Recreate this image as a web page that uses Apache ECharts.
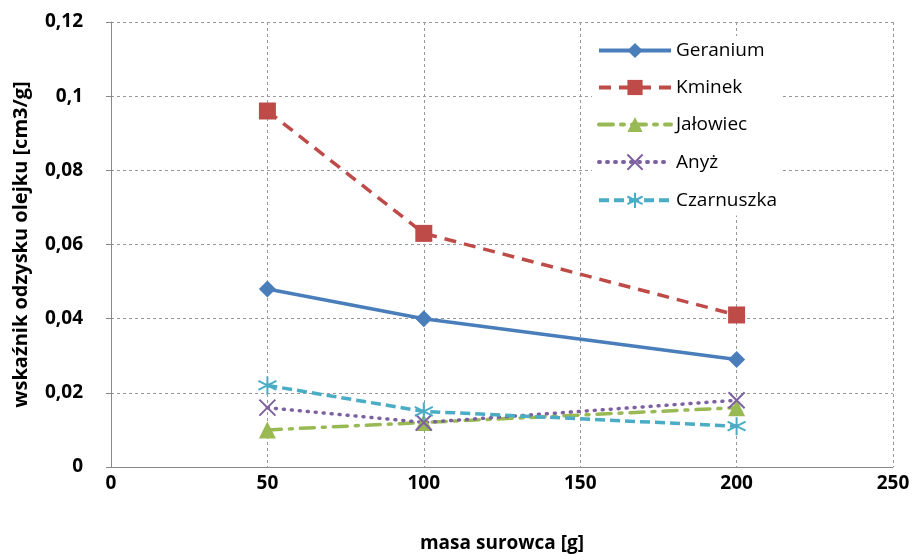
<!DOCTYPE html>
<html>
<head>
<meta charset="utf-8">
<script src="https://cdn.jsdelivr.net/npm/echarts@6/dist/echarts.min.js"></script>
<style>html,body{margin:0;padding:0;background:#fff;}#chart{width:918px;height:554px;}</style>
</head>
<body>
<div id="chart"></div>
<script>
var masses = [50, 100, 200];
var geranium = [0.048, 0.040, 0.029];
var kminek = [0.096, 0.063, 0.041];
var jalowiec = [0.010, 0.012, 0.016];
var anyz = [0.016, 0.012, 0.018];
var czarnuszka = [0.022, 0.015, 0.011];

function pairs(ys) {
    return masses.map(function (x, i) { return [x, ys[i]]; });
}
function comma(v) { return String(v).replace('.', ','); }

var fontFam = '"Open Sans", sans-serif';
var crossPath = 'path://M0,0 L10,10 M10,0 L0,10';
var starPath = 'path://M5,0 L5,10 M0,2.5 L10,7.5 M10,2.5 L0,7.5';

var chart = echarts.init(document.getElementById('chart'));
var option = {
    backgroundColor: '#fff',
    animation: false,
    grid: { left: 111, right: 25, top: 22, bottom: 87, outerBoundsMode: 'none' },
    legend: {
        orient: 'vertical',
        left: 592,
        top: 36,
        itemWidth: 72,
        itemHeight: 19,
        itemGap: 18,
        backgroundColor: '#fff',
        lineStyle: { width: 4 },
        textStyle: { fontFamily: fontFam, fontSize: 19, color: '#000' },
        data: ['Geranium', 'Kminek', 'Jałowiec', 'Anyż', 'Czarnuszka']
    },
    xAxis: {
        type: 'value', min: 0, max: 250, interval: 50,
        name: 'masa surowca [g]', nameLocation: 'middle', nameGap: 67,
        nameTextStyle: { fontFamily: fontFam, fontSize: 19, fontWeight: 'bold', color: '#000' },
        axisLine: { show: true, lineStyle: { color: '#888', width: 1 } },
        axisTick: { show: false },
        axisLabel: { fontFamily: fontFam, fontSize: 19, fontWeight: 'bold', color: '#000', margin: 7 },
        splitLine: { show: true, lineStyle: { color: '#999', type: [3, 3] } }
    },
    yAxis: {
        type: 'value', min: 0, max: 0.12, interval: 0.02,
        name: 'wskaźnik odzysku olejku [cm3/g]', nameLocation: 'middle', nameGap: 80,
        nameTextStyle: { fontFamily: fontFam, fontSize: 20, fontWeight: 'bold', color: '#000' },
        axisLine: { show: true, lineStyle: { color: '#888', width: 1 } },
        axisTick: { show: true, inside: false, length: 5, lineStyle: { color: '#888' } },
        axisLabel: { fontFamily: fontFam, fontSize: 19, fontWeight: 'bold', color: '#000', margin: 28,
            formatter: function (v) { return comma(Math.round(v * 100) / 100); } },
        splitLine: { show: true, lineStyle: { color: '#999', type: [3, 3] } }
    },
    series: [
        {
            name: 'Geranium', type: 'line', data: pairs(geranium),
            symbol: 'diamond', symbolSize: 17,
            lineStyle: { color: '#4A7EBB', width: 3.5 },
            itemStyle: { color: '#4A7EBB' }
        },
        {
            name: 'Kminek', type: 'line', data: pairs(kminek),
            symbol: 'rect', symbolSize: 17,
            lineStyle: { color: '#BE4B48', width: 3.5, type: [12, 8] },
            itemStyle: { color: '#BE4B48' }
        },
        {
            name: 'Jałowiec', type: 'line', data: pairs(jalowiec),
            symbol: 'triangle', symbolSize: 17,
            lineStyle: { color: '#98B954', width: 3.5, type: [14, 8, 3, 8], cap: 'round' },
            itemStyle: { color: '#98B954' }
        },
        {
            name: 'Anyż', type: 'line', data: pairs(anyz),
            symbol: crossPath, symbolSize: 16,
            lineStyle: { color: '#7D60A0', width: 3.5, type: [1, 7], cap: 'round' },
            itemStyle: { color: 'none', borderColor: '#7D60A0', borderWidth: 2 }
        },
        {
            name: 'Czarnuszka', type: 'line', data: pairs(czarnuszka),
            symbol: starPath, symbolSize: 18,
            lineStyle: { color: '#4BACC6', width: 3.5, type: [10, 5] },
            itemStyle: { color: 'none', borderColor: '#4BACC6', borderWidth: 2 }
        }
    ]
};
chart.setOption(option);
</script>
</body>
</html>
